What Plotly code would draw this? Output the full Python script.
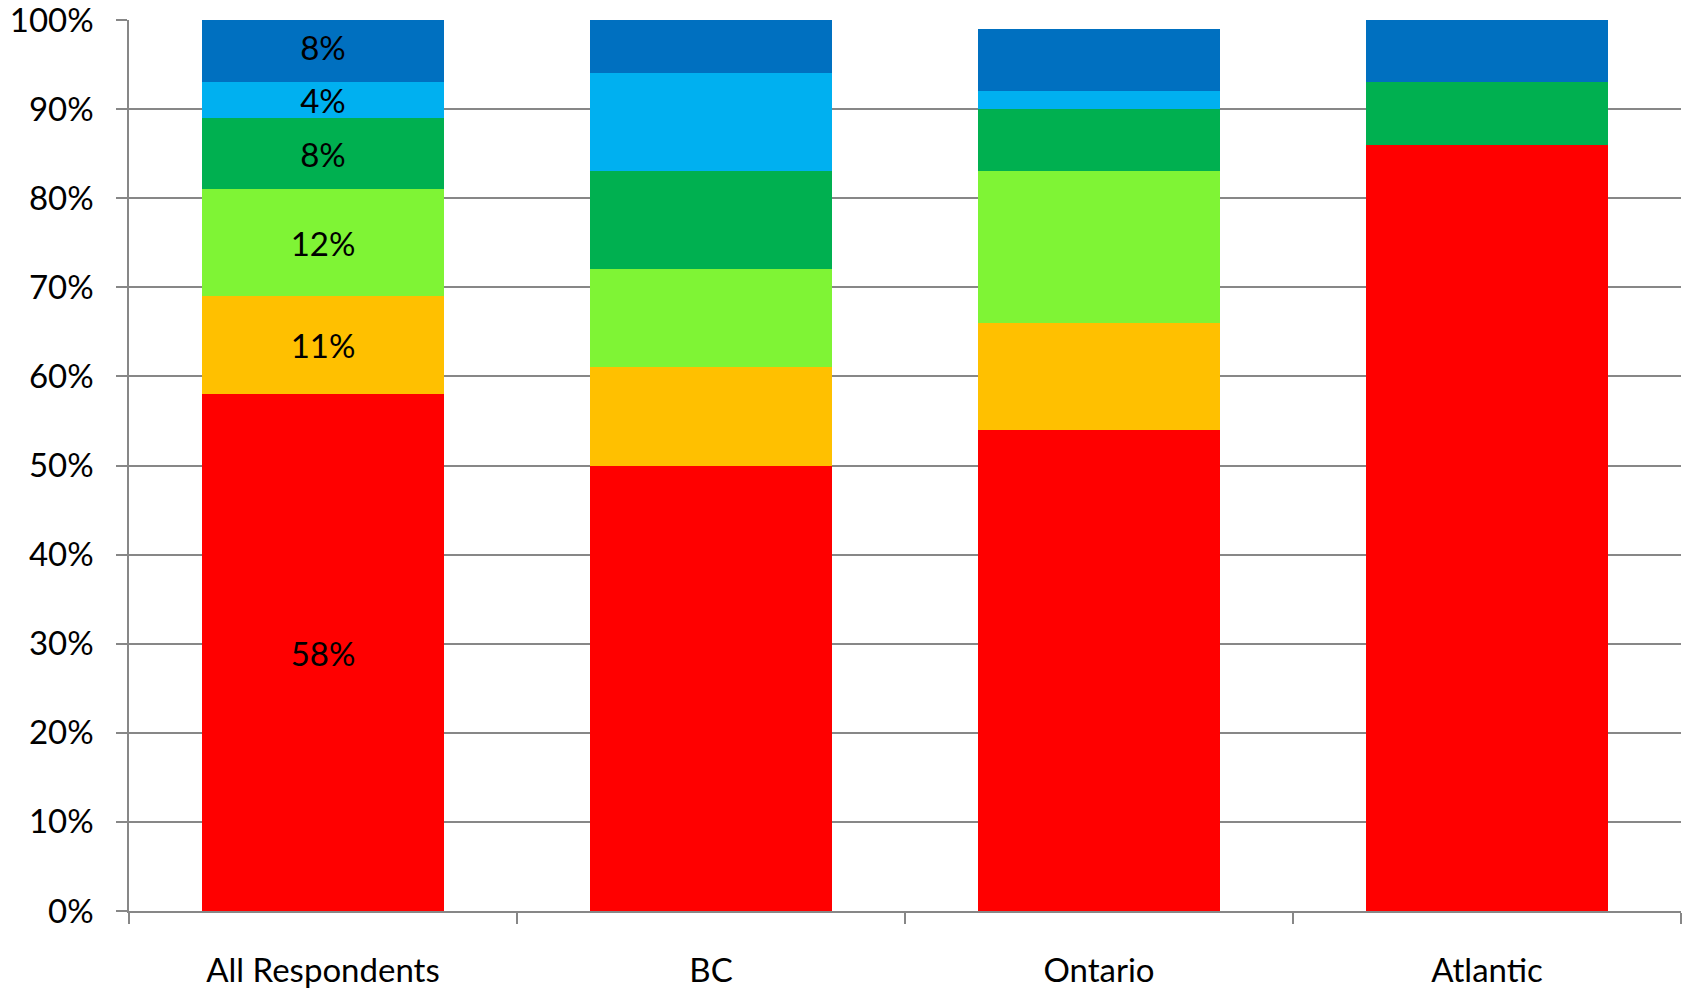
import plotly.graph_objects as go

categories = ["All Respondents", "BC", "Ontario", "Atlantic"]
series_names = ["Red", "Orange", "Light green", "Green", "Light blue", "Dark blue"]
red = [58, 50, 54, 86]
orange = [11, 11, 12, 0]
light_green = [12, 11, 17, 0]
green = [8, 11, 7, 7]
light_blue = [4, 11, 2, 0]
dark_blue = [8, 6, 7, 7]
y_ticks = [0, 10, 20, 30, 40, 50, 60, 70, 80, 90, 100]
y_tick_labels = [f"{v}%" for v in y_ticks]

series = [red, orange, light_green, green, light_blue, dark_blue]
colors = ["#FF0000", "#FFC000", "#7FF435", "#00B050", "#00B0F0", "#0070C0"]

FONT = "Lato"
FS = 33
GRID = "#878787"

fig = go.Figure()
for name, vals, col in zip(series_names, series, colors):
    texts = [f"{vals[0]}%"] + [""] * (len(categories) - 1)
    fig.add_trace(go.Bar(
        name=name,
        x=categories,
        y=vals,
        marker=dict(color=col, line=dict(width=0)),
        text=texts,
        texttemplate="%{text}",
        textposition="inside",
        insidetextanchor="middle",
        constraintext="none",
        textangle=0,
        textfont=dict(family=FONT, size=FS, color="black"),
        hoverinfo="skip",
    ))

fig.update_layout(
    barmode="stack",
    bargap=0.376,
    width=1685,
    height=989,
    margin=dict(l=129, r=4, t=20, b=78, autoexpand=False),
    paper_bgcolor="white",
    plot_bgcolor="white",
    showlegend=False,
    font=dict(family=FONT, size=FS, color="black"),
)
fig.update_xaxes(
    type="category",
    automargin=False,
    showgrid=False,
    showline=True,
    linecolor=GRID,
    linewidth=2,
    ticks="outside",
    tickson="boundaries",
    ticklen=11,
    tickcolor=GRID,
    tickwidth=1.5,
    ticklabelstandoff=29,
    ticklabeloverflow="allow",
    tickfont=dict(family=FONT, size=FS, color="black"),
)
fig.update_yaxes(
    range=[0, 100],
    automargin=False,
    tickvals=y_ticks,
    ticktext=y_tick_labels,
    showgrid=True,
    gridcolor=GRID,
    gridwidth=2,
    zeroline=False,
    showline=True,
    linecolor=GRID,
    linewidth=1.5,
    ticks="outside",
    ticklen=11,
    tickcolor=GRID,
    tickwidth=2,
    ticklabelstandoff=16,
    ticklabeloverflow="allow",
    tickfont=dict(family=FONT, size=FS, color="black"),
)

fig.write_html("out.html")
